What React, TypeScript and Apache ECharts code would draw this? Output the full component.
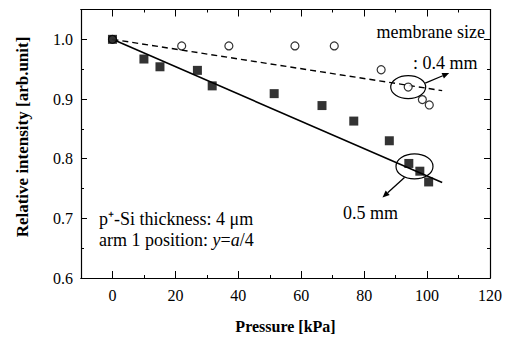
import React, { useEffect, useRef } from "react";
import * as echarts from "echarts";

const squareX = [0, 10, 15.1, 27, 31.7, 51.4, 66.6, 76.7, 88, 94.2, 97.7, 100.5];
const squareY = [1.0, 0.967, 0.954, 0.948, 0.922, 0.909, 0.889, 0.863, 0.83, 0.792, 0.779, 0.761];
const circleX = [0, 22, 37, 58, 70.5, 85.4, 94, 98.5, 100.7];
const circleY = [1.0, 0.989, 0.989, 0.989, 0.989, 0.949, 0.92, 0.899, 0.89];
const solidFitX = [0, 104.8];
const solidFitY = [1.0, 0.76];
const dashFitX = [0, 104.8];
const dashFitY = [1.0, 0.914];
const xMajorTicks = [0, 20, 40, 60, 80, 100, 120];
const xMinorTicks = [-10, 10, 30, 50, 70, 90, 110];

const FONT = "'Liberation Serif', 'Times New Roman', serif";

function pairs(xs: number[], ys: number[]) {
  return xs.map((x, i) => [x, ys[i]]);
}

function arrow(x1: number, y1: number, x2: number, y2: number) {
  const ang = Math.atan2(y2 - y1, x2 - x1);
  const L = 7, W = 3;
  const bx = x2 - L * Math.cos(ang), by = y2 - L * Math.sin(ang);
  const px = -Math.sin(ang) * W, py = Math.cos(ang) * W;
  return [
    { type: "line", shape: { x1, y1, x2: bx, y2: by }, style: { stroke: "#000", lineWidth: 1.3 } },
    {
      type: "polygon",
      shape: { points: [[x2, y2], [bx + px, by + py], [bx - px, by - py]] },
      style: { fill: "#000" },
    },
  ];
}

function label(text: string, x: number, y: number, size: number, extra: any = {}) {
  return {
    type: "text",
    x,
    y,
    style: { text, fontFamily: FONT, fontSize: size, fill: "#000", verticalAlign: "middle", ...extra },
  };
}

export default function App() {
  const ref = useRef<HTMLDivElement>(null);
  useEffect(() => {
    const chart = echarts.init(ref.current!, undefined, { renderer: "svg" });
    const axisLine = { show: true, onZero: false, lineStyle: { color: "#000", width: 1.2 } };
    const xCommon = { type: "value", min: -10, max: 120, splitLine: { show: false }, axisLine };
    const option: any = {
      animation: false,
      backgroundColor: "#fff",
      textStyle: { fontFamily: FONT },
      grid: { left: 81, right: 23, top: 9.5, bottom: 60 },
      xAxis: [
        {
          ...xCommon,
          position: "bottom",
          name: "Pressure [kPa]",
          nameLocation: "middle",
          nameGap: 40,
          nameTextStyle: { fontFamily: FONT, fontSize: 16, fontWeight: "bold", color: "#000" },
          axisTick: { show: true, inside: true, length: 7, customValues: xMajorTicks, lineStyle: { color: "#000" } },
          axisLabel: { customValues: xMajorTicks, fontFamily: FONT, fontSize: 16, color: "#000", margin: 9 },
        },
        {
          ...xCommon,
          position: "bottom",
          axisTick: { show: true, inside: true, length: 3, customValues: xMinorTicks, lineStyle: { color: "#000" } },
          axisLabel: { show: false },
        },
        {
          ...xCommon,
          position: "top",
          axisTick: { show: true, inside: true, length: 7, customValues: xMajorTicks, lineStyle: { color: "#000" } },
          axisLabel: { show: false },
        },
        {
          ...xCommon,
          position: "top",
          axisTick: { show: true, inside: true, length: 3, customValues: xMinorTicks, lineStyle: { color: "#000" } },
          axisLabel: { show: false },
        },
      ],
      yAxis: [
        {
          type: "value",
          min: 0.6,
          max: 1.05,
          interval: 0.1,
          position: "left",
          axisLine,
          splitLine: { show: false },
          axisTick: { show: true, inside: true, length: 6, lineStyle: { color: "#000" } },
          minorTick: { show: true, splitNumber: 2, length: 3, lineStyle: { color: "#000" } },
          axisLabel: {
            fontFamily: FONT,
            fontSize: 16,
            color: "#000",
            margin: 8,
            formatter: (v: number) => (v > 1.01 ? "" : v.toFixed(1)),
          },
        },
        {
          type: "value",
          min: 0.6,
          max: 1.05,
          interval: 0.1,
          position: "right",
          axisLine,
          splitLine: { show: false },
          axisTick: { show: true, inside: true, length: 6, lineStyle: { color: "#000" } },
          minorTick: { show: true, splitNumber: 2, length: 3, lineStyle: { color: "#000" } },
          axisLabel: { show: false },
        },
      ],
      series: [
        {
          type: "line",
          data: pairs(solidFitX, solidFitY),
          symbol: "none",
          lineStyle: { color: "#000", width: 1.6 },
          z: 1,
        },
        {
          type: "line",
          data: pairs(dashFitX, dashFitY),
          symbol: "none",
          lineStyle: { color: "#000", width: 1.4, type: [6, 4] },
          z: 1,
        },
        {
          type: "scatter",
          data: pairs(circleX, circleY),
          symbol: "circle",
          symbolSize: 8,
          itemStyle: { color: "#fff", borderColor: "#000", borderWidth: 1.2 },
          z: 2,
        },
        {
          type: "scatter",
          data: pairs(squareX, squareY),
          symbol: "rect",
          symbolSize: 9,
          itemStyle: { color: "#000" },
          z: 3,
        },
      ],
    };
    chart.setOption(option);

    const c1 = chart.convertToPixel({ gridIndex: 0 }, [94, 0.92]) as number[];
    const c2 = chart.convertToPixel({ gridIndex: 0 }, [96, 0.787]) as number[];
    const graphic: any[] = [
      {
        type: "text",
        rotation: Math.PI / 2,
        x: 22,
        y: 137,
        style: {
          text: "Relative intensity [arb.unit]",
          fontFamily: FONT,
          fontSize: 17,
          fontWeight: "bold",
          fill: "#000",
          align: "center",
          verticalAlign: "middle",
        },
      },
      {
        type: "ellipse",
        shape: { cx: c1[0], cy: c1[1], rx: 17.5, ry: 11.5 },
        style: { fill: "none", stroke: "#000", lineWidth: 1.2 },
        z: 10,
      },
      {
        type: "ellipse",
        shape: { cx: c2[0], cy: c2[1], rx: 18.5, ry: 12.5 },
        style: { fill: "none", stroke: "#000", lineWidth: 1.2 },
        z: 10,
      },
      ...arrow(c1[0] + 17, c1[1] - 4, c1[0] + 41, c1[1] - 14),
      ...arrow(c2[0] - 10, c2[1] + 11, c2[0] - 32, c2[1] + 31),
      label("membrane size", 485, 32, 18, { align: "right" }),
      label(": 0.4 mm", 413, 63, 18),
      label("0.5 mm", 343, 213, 18),
      label("p⁺-Si thickness: 4 μm", 99, 219, 18),
      label("arm 1 position: {i|y}={i|a}/4", 99, 240, 18, {
        rich: { i: { fontFamily: FONT, fontSize: 18, fontStyle: "italic" } },
      }),
    ];
    chart.setOption({ graphic });
    return () => chart.dispose();
  }, []);
  return <div ref={ref} style={{ position: "absolute", left: 0, top: 0, width: 513, height: 339 }} />;
}
